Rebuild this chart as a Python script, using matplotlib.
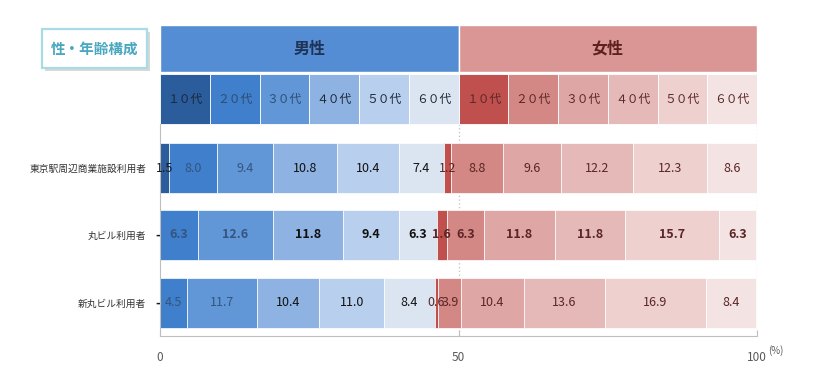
import numpy as np
import matplotlib.pyplot as plt
from matplotlib.patches import Rectangle

plt.rcParams['font.family'] = ['Noto Sans CJK JP', 'DejaVu Sans']

categories = ['東京駅周辺商業施設利用者', '丸ビル利用者', '新丸ビル利用者']
ages = ['１０代', '２０代', '３０代', '４０代', '５０代', '６０代']
male = [[1.5, 8.0, 9.4, 10.8, 10.4, 7.4],
        [0.0, 6.3, 12.6, 11.8, 9.4, 6.3],
        [0.0, 4.5, 11.7, 10.4, 11.0, 8.4]]
female = [[1.2, 8.8, 9.6, 12.2, 12.3, 8.6],
          [1.6, 6.3, 11.8, 11.8, 15.7, 6.3],
          [0.6, 3.9, 10.4, 13.6, 16.9, 8.4]]
bold_rows = [False, True, False]

male_colors = ['#2b5c9c', '#3f7fcc', '#6197d7', '#8eb2e1', '#b8cfed', '#dbe5f2']
female_colors = ['#c0504d', '#d48885', '#dea6a5', '#e5b9b8', '#eed0cf', '#f3e3e2']
male_txt = ['#1a1a1a', '#34557f', '#34557f', '#111111', '#111111', '#111111']
female_txt = '#5a2626'

fig = plt.figure(figsize=(8.31, 3.75), dpi=100)
W, H = 831, 375
ax = fig.add_axes([160 / W, (H - 336) / H, 597 / W, 311 / H])
ax.set_xlim(0, 100)
ax.set_ylim(336, 25)

# dotted guide lines
for xv, top in [(50, 124), (100, 65)]:
    ax.plot([xv, xv], [top, 336], color='#bfbfbf', lw=0.9, ls=(0, (1, 2)), zorder=0)

# header: sex
ax.barh(48.5, 50, left=0, height=47, color='#548dd4', edgecolor='white', lw=1, zorder=2)
ax.barh(48.5, 50, left=50, height=47, color='#d99694', edgecolor='white', lw=1, zorder=2)
ax.text(25, 48.5, '男性', ha='center', va='center', fontsize=11.5, fontweight='bold', color='#1f3357')
ax.text(75, 48.5, '女性', ha='center', va='center', fontsize=11.5, fontweight='bold', color='#5e1f1f')

# header: age cells
step = 50 / len(ages)
for i, a in enumerate(ages):
    ax.barh(99, step, left=i * step, height=50, color=male_colors[i], edgecolor='white', lw=0.6, zorder=2)
    ax.text(i * step + step / 2, 99, a, ha='center', va='center', fontsize=8.5,
            color='#1c2838' if i not in (1, 2) else '#2f4b70')
    ax.barh(99, step, left=50 + i * step, height=50, color=female_colors[i], edgecolor='white', lw=0.6, zorder=2)
    ax.text(50 + i * step + step / 2, 99, a, ha='center', va='center', fontsize=8.5, color=female_txt)

# data rows
row_y = [168, 235, 303]
for r, y in enumerate(row_y):
    left = 0.0
    fw = 'bold' if bold_rows[r] else 'normal'
    for i, v in enumerate(male[r]):
        if v > 0:
            ax.barh(y, v, left=left, height=50, color=male_colors[i], edgecolor='white', lw=0.5, zorder=2)
            ax.text(left + v / 2, y, f'{v:.1f}', ha='center', va='center', fontsize=9,
                    fontweight=fw, color=male_txt[i], zorder=3)
        else:
            ax.text(left - 0.4, y, '-', ha='center', va='center', fontsize=9,
                    fontweight='bold', color='#1a1a1a', zorder=3, clip_on=False)
        left += v
    for i, v in enumerate(female[r]):
        ax.barh(y, v, left=left, height=50, color=female_colors[i], edgecolor='white', lw=0.5, zorder=2)
        ax.text(left + v / 2, y, f'{v:.1f}', ha='center', va='center', fontsize=9,
                fontweight=fw, color=female_txt, zorder=3)
        left += v

ax.set_yticks(row_y)
ax.set_yticklabels(categories, fontsize=7, color='#333333')
ax.tick_params(axis='y', length=0, pad=10)

ax.set_xticks([0, 50, 100])
ax.set_xticklabels(['0', '50', '100'], fontsize=8.5, color='#595959')
ax.tick_params(axis='x', direction='in', length=4, color='#bfbfbf', pad=11)

for s in ['top', 'right']:
    ax.spines[s].set_visible(False)
ax.spines['left'].set_bounds(124, 336)
ax.spines['left'].set_color('#bfbfbf')
ax.spines['bottom'].set_color('#bfbfbf')

fig.text(776 / W, 1 - 351 / H, '(%)', fontsize=7, color='#595959', ha='center', va='center')

# title box
shadow = Rectangle((45 / W, 1 - 71 / H), 105 / W, 39 / H, transform=fig.transFigure,
                   facecolor='#c8c8c8', edgecolor='none', alpha=0.7)
box = Rectangle((42 / W, 1 - 68 / H), 105 / W, 39 / H, transform=fig.transFigure,
                facecolor='white', edgecolor='#a8dbe4', lw=1.6)
fig.patches.extend([shadow, box])
fig.text(94.5 / W, 1 - 48.5 / H, '性・年齢構成', fontsize=10.5, fontweight='bold',
         color='#4aa7c0', ha='center', va='center')

fig.savefig('out.png', dpi=100)
